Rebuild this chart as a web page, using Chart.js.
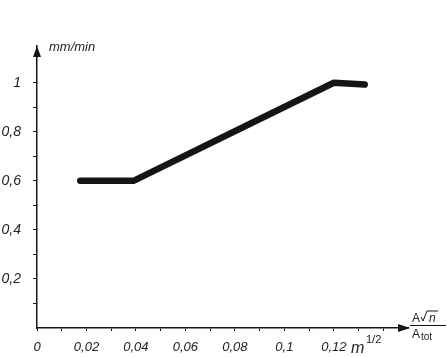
<!DOCTYPE html>
<html>
<head>
<meta charset="utf-8">
<script src="https://cdn.jsdelivr.net/npm/chart.js@4.4.1/dist/chart.umd.min.js"></script>
<style>
  html, body { margin: 0; padding: 0; background: #fff; }
  #wrap { width: 447px; height: 357px; }
</style>
</head>
<body>
<div id="wrap"><canvas id="chart" width="447" height="357"></canvas></div>
<script>
// values
const rateX = [0.0175, 0.039, 0.12, 0.1325]
const rateY = [0.6, 0.6, 1.0, 0.993]
const xTicks = [0, 0.01, 0.02, 0.03, 0.04, 0.05, 0.06, 0.07, 0.08, 0.09, 0.1, 0.11, 0.12, 0.13, 0.14]
const xLabelled = [0, 0.02, 0.04, 0.06, 0.08, 0.1, 0.12]
const yTicks = [0.1, 0.2, 0.3, 0.4, 0.5, 0.6, 0.7, 0.8, 0.9, 1.0]
const yLabelled = [0.2, 0.4, 0.6, 0.8, 1.0]

const ink = '#151515'
const font = 'Liberation Sans'

const near = (v, list) => list.some(l => Math.abs(l - v) < 1e-6)
const fmt = v => String(+v.toFixed(2)).replace('.', ',')

const axisDecor = {
  id: 'axisDecor',
  afterDraw (chart) {
    const { ctx, chartArea: a } = chart
    const x0 = chart.scales.x.getPixelForValue(0)
    const y0 = chart.scales.y.getPixelForValue(0)
    ctx.save()
    ctx.fillStyle = ink
    ctx.strokeStyle = ink
    // arrow heads
    ctx.beginPath()
    ctx.moveTo(x0, a.top)
    ctx.lineTo(x0 - 4, a.top + 11)
    ctx.lineTo(x0 + 4, a.top + 11)
    ctx.closePath()
    ctx.fill()
    ctx.beginPath()
    ctx.moveTo(a.right + 2, y0)
    ctx.lineTo(a.right - 10, y0 - 4)
    ctx.lineTo(a.right - 10, y0 + 4)
    ctx.closePath()
    ctx.fill()

    // y unit
    ctx.textBaseline = 'alphabetic'
    ctx.textAlign = 'left'
    ctx.font = 'italic 13px ' + font
    ctx.fillStyle = '#222'
    ctx.fillText('mm/min', x0 + 12, a.top + 5)

    // m^1/2
    ctx.font = 'italic 16px ' + font
    ctx.fillText('m', 351, 353)
    ctx.font = '11px ' + font
    ctx.fillText('1/2', 366, 343)

    // A sqrt(n) / A_tot
    ctx.font = '12px ' + font
    ctx.fillText('A', 412, 322)
    ctx.lineWidth = 1
    ctx.beginPath()
    ctx.moveTo(421, 317)
    ctx.lineTo(423, 321)
    ctx.lineTo(427, 311)
    ctx.lineTo(438, 311)
    ctx.stroke()
    ctx.font = 'italic 12px ' + font
    ctx.fillText('n', 429, 322)
    ctx.lineWidth = 1.2
    ctx.beginPath()
    ctx.moveTo(410, 325.5)
    ctx.lineTo(446, 325.5)
    ctx.stroke()
    ctx.font = '12px ' + font
    ctx.fillText('A', 412, 338)
    ctx.font = '10px ' + font
    ctx.fillText('tot', 421, 340)
    ctx.restore()
  }
}

new Chart(document.getElementById('chart'), {
  type: 'line',
  data: {
    datasets: [{
      data: rateX.map((x, i) => ({ x, y: rateY[i] })),
      borderColor: ink,
      borderWidth: 6.5,
      borderCapStyle: 'round',
      borderJoinStyle: 'round',
      pointRadius: 0,
      tension: 0
    }]
  },
  options: {
    responsive: false,
    animation: false,
    layout: { padding: { left: 0, right: 39, top: 46, bottom: 0 } },
    plugins: { legend: { display: false }, tooltip: { enabled: false } },
    scales: {
      x: {
        type: 'linear',
        min: 0,
        max: 0.15,
        afterFit: s => { s.height = 29 },
        afterBuildTicks: s => { s.ticks = xTicks.map(value => ({ value })) },
        border: { color: ink, width: 1.5 },
        grid: { drawOnChartArea: false, drawTicks: true, tickLength: 3, color: ink, lineWidth: 1 },
        ticks: {
          autoSkip: false,
          maxRotation: 0,
          padding: 9,
          color: '#222',
          font: { family: font, size: 13, style: 'italic' },
          callback: v => near(v, xLabelled) ? fmt(v) : ''
        }
      },
      y: {
        type: 'linear',
        min: 0,
        max: 1.15,
        afterFit: s => { s.width = 37 },
        afterBuildTicks: s => { s.ticks = yTicks.map(value => ({ value })) },
        border: { color: ink, width: 1.5 },
        grid: { drawOnChartArea: false, drawTicks: true, tickLength: 4, color: ink, lineWidth: 1 },
        ticks: {
          autoSkip: false,
          padding: 12,
          color: '#222',
          font: { family: font, size: 14, style: 'italic' },
          callback: v => near(v, yLabelled) ? fmt(v) : ''
        }
      }
    }
  },
  plugins: [axisDecor]
})
</script>
</body>
</html>
